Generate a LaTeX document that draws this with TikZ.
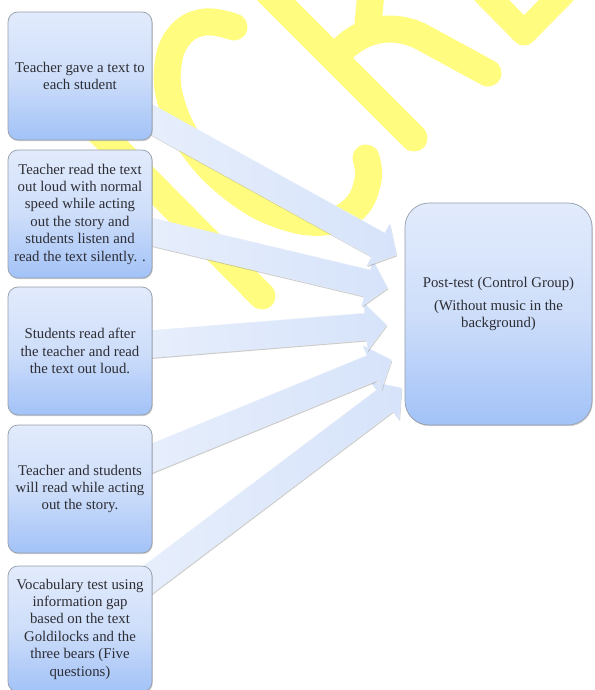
\documentclass[tikz,border=0pt]{standalone}
\usepackage{fontspec}
\setmainfont{Liberation Serif}
\usetikzlibrary{calc,shadows,backgrounds}
\definecolor{wm}{RGB}{255,252,128}
\definecolor{boxtop}{RGB}{226,235,252}
\definecolor{boxmid}{RGB}{206,222,250}
\definecolor{boxbot}{RGB}{162,194,247}
\definecolor{boxline}{RGB}{150,158,172}
\definecolor{arrfill}{RGB}{214,227,250}
\definecolor{arrlight}{RGB}{232,239,252}
\definecolor{txt}{RGB}{45,45,52}
\newcommand\blockarrow[2]{%
  \coordinate (ah) at ($(#2)!21pt!(#1)$);
  \path[arrowstyle] ($(#1)!13.5pt!90:(#2)$) -- ($(ah)!13.5pt!90:(#2)$) -- ($(ah)!24pt!90:(#2)$) -- (#2)
    -- ($(ah)!24pt!-90:(#2)$) -- ($(ah)!13.5pt!-90:(#2)$) -- ($(#1)!13.5pt!-90:(#2)$) -- cycle;
}
\begin{document}
\begin{tikzpicture}[x=1pt,y=-1pt,
  stepbox/.style={draw=boxline, line width=0.7pt, rounded corners=10pt,
    top color=boxtop, bottom color=boxbot, middle color=boxmid,
    minimum width=144pt, minimum height=128pt, inner sep=0pt, align=center,
    text=txt, font=\fontsize{14.8}{17.4}\selectfont,
    drop shadow={shadow xshift=0.8pt, shadow yshift=-1.2pt, opacity=0.35}},
  postbox/.style={stepbox, rounded corners=24pt, minimum width=187pt, minimum height=222pt},
  posttext/.style={align=center, text=txt, font=\fontsize{14.8}{17}\selectfont, inner sep=0pt},
  arrowstyle/.style={left color=arrlight, right color=arrfill, draw=white!40!arrfill, line width=0.4pt,
    drop shadow={shadow xshift=0.6pt, shadow yshift=-1.3pt, opacity=0.4}},
  wmline/.style={draw=wm, line width=27pt, line cap=round, line join=round}]
\useasboundingbox (0,0) rectangle (594,690);

% boxes
\node[stepbox] (b1) at (80,76) {Teacher gave a text to\\each student};
\node[stepbox] (b2) at (80,214) {Teacher read the text\\out loud with normal\\speed while acting\\out the story and\\students listen and\\read the text silently. .};
\node[stepbox] (b3) at (80,351) {Students read after\\the teacher and read\\the text out loud.};
\node[stepbox] (b4) at (80,489) {Teacher and students\\will read while acting\\out the story.};
\node[stepbox, minimum height=126pt] (b5) at (80,629) {Vocabulary test using\\information gap\\based on the text\\Goldilocks and the\\three bears (Five\\questions)};
\node[postbox] (post) at (498.5,314) {};
\node[posttext] (postlabel) at ($(post.center)+(0,-10)$) {Post-test (Control Group)\\[6pt](Without music in the\\background)};

% connector end points
\coordinate (s1) at ($(b1.east)+(-17,34.6)$);
\coordinate (s2) at ($(b2.east)+(-17,14)$);
\coordinate (s3) at ($(b3.east)+(-17,-5.6)$);
\coordinate (s4) at ($(b4.east)+(-17,-24)$);
\coordinate (s5) at ($(b5.east)+(-22,-36)$);
\coordinate (t1) at ($(post.west)+(-8,-59)$);
\coordinate (t2) at ($(post.west)+(-17,-26)$);
\coordinate (t3) at ($(post.west)+(-18,11)$);
\coordinate (t4) at ($(post.west)+(-13,46)$);
\coordinate (t5) at ($(post.west)+(-3,74)$);

\begin{pgfonlayer}{background}
  \fill[white] (0,0) rectangle (594,690);
  % watermark
  \draw[wmline] (40,72) -- (262,296);
  \draw[wmline] plot[smooth, tension=0.7] coordinates {(234,27) (205,22) (180,35) (168,65) (172,105) (195,150) (235,190) (280,215) (325,222) (355,208) (368,180) (366,158)};
  \draw[wmline] (268,-8) -- (414,138);
  \draw[wmline] (340,52) .. controls (360,30) and (390,22) .. (420,36) -- (488,73);
  \draw[wmline] (372,-20) -- (368,25);
  \draw[wmline, line width=25pt] (470,-22) -- (524,33) -- (578,-22);
  % arrows
  \blockarrow{s5}{t5}
  \blockarrow{s4}{t4}
  \blockarrow{s3}{t3}
  \blockarrow{s2}{t2}
  \blockarrow{s1}{t1}
\end{pgfonlayer}
\end{tikzpicture}
\end{document}
